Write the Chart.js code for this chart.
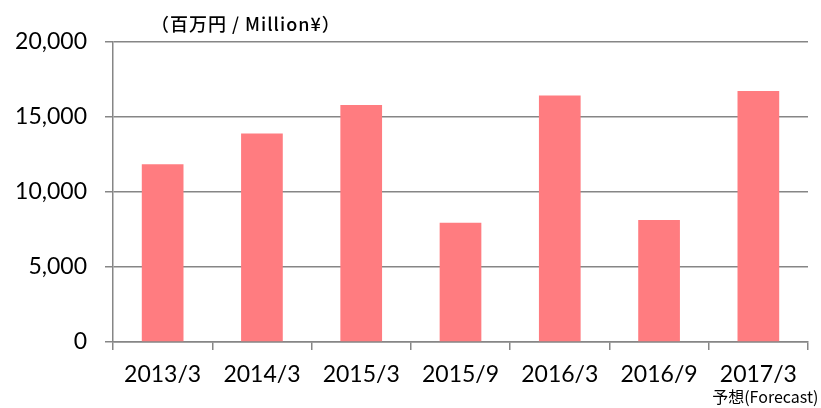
<!DOCTYPE html>
<html>
<head>
<meta charset="utf-8">
<script src="https://cdn.jsdelivr.net/npm/chart.js@4/dist/chart.umd.min.js"></script>
<style>
  html, body { margin: 0; padding: 0; background: #fff; }
  #wrap { width: 821px; height: 408px; }
</style>
</head>
<body>
<div id="wrap"><canvas id="salesChart"></canvas></div>
<script>
// data
const periods = ['2013/3', '2014/3', '2015/3', '2015/9', '2016/3', '2016/9', '2017/3'];
const sales = [11850, 13900, 15800, 7950, 16430, 8130, 16730];
const yTicks = [0, 5000, 10000, 15000, 20000];
const unitLabel = '（百万円 / Million¥）';
const forecastLabel = '予想(Forecast)';

const gridColor = '#868686';

// extra texts: unit caption and forecast note
const notesPlugin = {
  id: 'notes',
  afterDraw(chart) {
    const ctx = chart.ctx;
    const area = chart.chartArea;
    const x = chart.scales.x;
    ctx.save();
    ctx.fillStyle = '#000';
    ctx.textBaseline = 'middle';
    ctx.font = '500 18px "Noto Sans CJK JP", "Noto Sans", sans-serif';
    ctx.letterSpacing = '1px';
    ctx.textAlign = 'left';
    ctx.fillText(unitLabel, area.left + 38, area.top - 18);
    ctx.font = '16px "Noto Sans CJK JP", "Noto Sans", sans-serif';
    ctx.letterSpacing = '0px';
    ctx.textAlign = 'right';
    ctx.fillText(forecastLabel, x.getPixelForValue(periods.length - 1) + 60, 397);
    ctx.restore();
  }
};

new Chart(document.getElementById('salesChart'), {
  type: 'bar',
  data: {
    labels: periods,
    datasets: [{
      data: sales,
      backgroundColor: '#ff7c80',
      borderWidth: 0,
      barPercentage: 0.42,
      categoryPercentage: 1
    }]
  },
  options: {
    responsive: true,
    maintainAspectRatio: false,
    animation: false,
    layout: { padding: { top: 42, right: 13, left: 0, bottom: 0 } },
    plugins: {
      legend: { display: false },
      tooltip: { enabled: false }
    },
    scales: {
      x: {
        afterFit(scale) { scale.height = 66; },
        grid: {
          offset: true,
          drawOnChartArea: false,
          drawTicks: true,
          tickLength: 8,
          color: gridColor,
          lineWidth: 1.5
        },
        border: { display: true, color: gridColor, width: 1.5 },
        ticks: {
          color: '#000',
          padding: 11,
          maxRotation: 0,
          font: { family: 'Lato, "Open Sans", sans-serif', size: 23 }
        }
      },
      y: {
        min: 0,
        max: 20000,
        afterFit(scale) { scale.width = 113; },
        afterBuildTicks(scale) { scale.ticks = yTicks.map(v => ({ value: v })); },
        grid: {
          color: gridColor,
          lineWidth: 1.5,
          tickLength: 8
        },
        border: { display: true, color: gridColor, width: 1.5 },
        ticks: {
          color: '#000',
          padding: 18,
          font: { family: 'Lato, "Open Sans", sans-serif', size: 23 },
          callback: v => v.toLocaleString('en-US')
        }
      }
    }
  },
  plugins: [notesPlugin]
});
</script>
</body>
</html>
